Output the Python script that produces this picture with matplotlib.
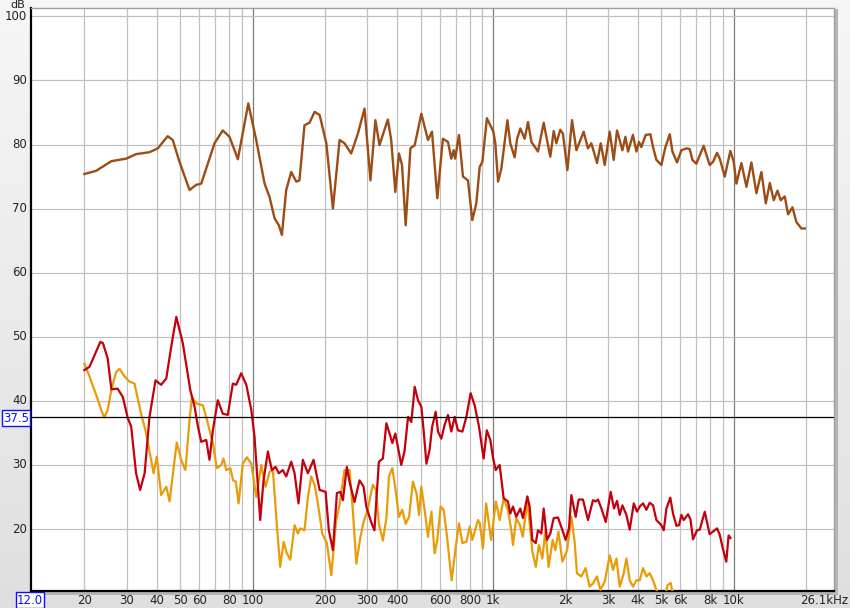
import numpy as np
import matplotlib
matplotlib.use('Agg')
from matplotlib import pyplot as plt
from matplotlib.patches import Rectangle

# brown trace
brown_f = [20, 22.4, 25.9, 29.9, 32.8, 37.3, 40.4, 44.4, 46.6, 49.7, 54.7, 58.3, 61.2, 69.5, 75.2,
           80.2, 86.9, 96, 103.6, 112.2, 117.7, 123.4, 128.6, 132.4, 138, 144.8, 152, 156.6, 164.4,
           172.5, 181.1, 190, 202.6, 215.8, 230, 241, 257, 274, 292, 309, 324, 337, 365, 377, 392,
           406, 418, 433, 453, 472, 503, 536, 557, 586, 618, 649, 670, 685, 695, 721, 749, 786, 819,
           851, 879, 902, 942, 1002, 1021, 1048, 1081, 1146, 1178, 1228, 1258, 1297, 1352, 1396,
           1442, 1536, 1622, 1664, 1728, 1785, 1831, 1901, 1950, 2035, 2127, 2218, 2378, 2478, 2559,
           2703, 2800, 2909, 3051, 3170, 3272, 3444, 3546, 3636, 3810, 3938, 4038, 4130, 4305, 4503,
           4618, 4770, 5000, 5200, 5420, 5560, 5812, 6057, 6353, 6561, 6730, 6990, 7497, 7940, 8203,
           8522, 8747, 9175, 9680, 10000, 10260, 10760, 11290, 11840, 12420, 13030, 13590, 14120,
           14660, 15200, 15680, 16290, 16820, 17540, 18210, 19100, 19720]
brown_db = [75.4, 75.9, 77.4, 77.8, 78.5, 78.8, 79.4, 81.3, 80.7, 77.3, 72.9, 73.7, 73.9, 80.2, 82.2,
            81.2, 77.7, 86.4, 80.7, 73.9, 71.8, 68.5, 67.4, 65.9, 72.9, 75.7, 74.2, 74.4, 83.0,
            83.4, 85.1, 84.6, 80.2, 70.0, 80.7, 80.2, 78.6, 81.7, 85.6, 74.4, 83.8, 79.9, 83.9, 80.7, 72.6,
            78.6, 76.8, 67.4, 79.4, 79.9, 84.8, 80.7, 82.0, 71.6, 80.9, 80.4, 77.8, 79.1, 77.8, 81.5, 75.0, 74.4, 68.2,
            70.8, 76.5, 77.3, 84.1, 82.0, 80.2, 74.2, 76.2, 83.8, 80.2, 78.0, 80.9, 82.5, 80.9, 83.5,
            80.4, 78.9, 83.4, 81.2, 78.1, 82.1, 80.2, 82.3, 81.7, 76.0, 83.8, 79.1, 82.0, 79.4, 80.2,
            77.1, 80.2, 76.8, 82.0, 77.6, 82.2, 79.1, 81.2, 78.9, 81.5, 78.9, 80.4, 79.6, 81.5, 81.6,
            79.6, 77.6, 76.8, 79.6, 81.6, 78.9, 77.2, 79.1, 79.4, 79.3, 77.6, 77.0, 79.8, 76.8, 77.3,
            78.7, 77.8, 75.0, 79.0, 77.3, 73.9, 77.1, 73.4, 77.2, 72.4, 75.7, 70.8, 74.0,
            71.3, 72.8, 71.3, 71.9, 69.1, 70.2, 67.9, 66.9, 66.9]

# red trace
red_f = [20, 21.0, 23.3, 23.9, 25.0, 25.9, 27.5, 28.9, 30.3, 31.3, 32.8, 34.1, 35.6, 37.3, 39.5, 41.7,
         43.8, 45.9, 48.2, 51.3, 55.1, 57.4, 59.3, 61.2, 64.2, 66.2, 68.4, 71.7, 75.2, 78.9, 82.8,
         85.5, 89.7, 94.2, 98.8, 101.9, 107.6, 111.1, 115.8, 120.3, 124.6, 128.6, 133.6, 138,
         144.8, 149.5, 155.2, 161.8, 169.8, 179.3, 190, 201.2, 207.5, 215.8, 224.2, 231.6, 237.4,
         246.6, 252.9, 265.3, 278.4, 289.4, 297, 311, 321, 335, 348, 360, 371, 381, 392, 402, 415,
         428, 443, 457, 472, 487, 503, 514, 528, 544, 558, 577, 590, 609, 628, 649, 670, 692, 714,
         745, 774, 806, 838, 873, 913, 941, 973, 1000, 1025, 1064, 1106, 1152, 1178, 1209, 1247,
         1297, 1330, 1387, 1418, 1455, 1503, 1536, 1586, 1622, 1674, 1728, 1785, 1860, 1950, 2002,
         2066, 2113, 2203, 2267, 2362, 2478, 2600, 2668, 2728, 2818, 2938, 3080, 3179, 3272, 3357,
         3445, 3580, 3695, 3840, 3962, 4064, 4198, 4335, 4475, 4618, 4770, 5000, 5117, 5251, 5448,
         5594, 5777, 5924, 6060, 6194, 6456, 6607, 6774, 7036, 7222, 7577, 7940, 8203, 8522, 8747,
         8975, 9310, 9520, 9700]
red_db = [44.8, 45.3, 49.2, 49.0, 46.6, 41.8, 41.9, 40.6, 37.3, 36.0, 28.7, 26.1, 28.7, 37.5, 43.2, 42.5,
          43.5, 48.4, 53.1, 49.0, 41.7, 39.1, 36.0, 33.6, 33.9, 30.8, 35.4, 40.1, 38.0, 37.8, 42.7,
          42.5, 44.3, 42.5, 38.6, 34.4, 21.4, 27.6, 32.1, 29.2, 29.7, 28.7, 29.2, 28.2,
          30.5, 28.7, 24.0, 30.8, 28.7, 30.8, 26.1, 25.8, 19.8, 16.7, 25.6, 25.8, 24.5,
          29.7, 27.4, 24.2, 27.6, 26.6, 23.5, 21.1, 19.8, 30.5, 31.0, 36.5, 34.9, 33.4, 34.9, 32.8, 30.0,
          32.1, 37.5, 36.7, 42.2, 40.1, 39.1, 35.4, 30.2, 32.3, 36.0, 38.3, 35.2, 34.1, 36.2, 37.8, 35.2, 37.5, 35.4,
          35.2, 37.5, 41.2, 39.3, 36.0, 31.0, 35.4, 33.9, 31.0, 29.2, 30.0, 24.8, 24.3, 22.4, 23.5, 21.9,
          23.2, 21.7, 25.1, 23.5, 18.3, 17.8, 19.8, 19.3, 23.2, 18.3, 19.3, 21.7, 21.8, 19.6, 18.3,
          20.1, 25.3, 21.9, 24.6, 24.6, 21.4, 24.5, 24.3, 24.6, 23.2, 21.1, 25.8, 23.2, 24.4, 22.2,
          23.7, 22.2, 19.9, 24.0, 22.7, 23.5, 24.0, 23.0, 24.1, 23.7, 21.4, 20.6, 19.8, 23.2, 24.9,
          22.4, 20.5, 20.6, 22.2, 21.4, 22.3, 21.5, 18.4, 19.8, 19.9, 22.7, 19.2, 19.6, 20.1, 19.1,
          17.2, 14.9, 19.0, 18.6]

# orange trace
orange_f = [20, 21.0, 22.4, 23.5, 24.2, 25.0, 25.9, 27.1, 28.0, 29.4, 30.8, 32.3, 34.5, 35.9, 37.3,
            38.8, 40.0, 41.7, 43.8, 45.2, 46.9, 48.4, 50.5, 52.6, 54.7, 56.0, 58.3, 62.2, 65.2,
            68.4, 71.0, 74.1, 75.7, 77.8, 80.8, 83.0, 85.2, 87.5, 91.1, 94.7, 98.8, 103.6, 108.7,
            113.3, 117.7, 121.5, 126.3, 130.3, 134.6, 138.9, 143.5, 149.5, 154.3, 157.9, 164.4,
            169.9, 175.3, 181.1, 186.9, 194.8, 203.6, 212.5, 222.6, 230, 241, 253, 261, 270, 280,
            289.4, 301, 316, 326, 335, 348, 360, 369, 381, 393, 406, 419, 433, 447, 464, 480, 492,
            503, 519, 536, 554, 571, 586, 605, 623, 643, 672, 698, 721, 745, 774, 799, 819, 865,
            880, 907, 935, 981, 1026, 1065, 1106, 1152, 1190, 1209, 1247, 1292, 1328, 1386, 1418,
            1455, 1503, 1549, 1601, 1649, 1700, 1768, 1813, 1868, 1940, 2030, 2113, 2181, 2230,
            2325, 2422, 2516, 2598, 2700, 2790, 2909, 3051, 3150, 3255, 3357, 3490, 3580, 3695,
            3815, 3938, 4064, 4198, 4335, 4475, 4618, 4770, 4950, 5117, 5300, 5470, 5640, 5860]
orange_db = [45.8, 43.8, 40.9, 38.6, 37.4, 38.6, 41.7, 44.5, 45.0, 43.8, 43.0, 42.7, 37.8, 35.4, 32.1,
             28.7, 31.3, 25.3, 26.6, 24.3, 29.2, 33.5, 30.8, 29.2, 37.0, 40.6, 39.6, 39.3, 36.5,
             33.4, 29.5, 30.0, 31.0, 29.2, 29.5, 27.6, 27.4, 24.0, 30.2, 31.2, 30.2, 25.0, 30.0,
             26.6, 28.9, 29.2, 20.4, 14.1, 18.0, 16.2, 15.2, 20.6, 19.3, 20.1, 19.8,
             25.0, 28.2, 26.9, 24.0, 19.3, 17.8, 12.8, 21.4, 23.8, 29.2, 29.2, 23.0, 14.6, 18.5,
             21.1, 23.0, 26.9, 26.1, 20.8, 18.2, 21.7, 28.2, 29.5, 26.1, 21.9, 23.0, 20.8, 21.9, 27.4, 25.6, 22.2,
             26.6, 23.0, 18.8, 22.7, 16.2, 18.3, 23.5, 23.0, 18.8, 12.0, 17.0, 20.9, 17.8, 18.0, 20.4, 18.3, 21.4,
             20.9, 17.0, 24.0, 18.3, 24.3, 21.4, 24.8, 23.0, 19.8, 17.5, 21.7, 20.6, 18.8, 24.3, 20.9,
             16.5, 14.1, 17.5, 15.4, 19.8, 14.1, 18.3, 16.7, 19.6, 14.9, 16.7, 21.9, 18.0, 13.1,
             12.6, 13.9, 11.0, 11.5, 12.6, 10.5, 11.8, 15.9, 13.6, 15.4, 11.0, 13.1, 15.4, 12.0,
             11.0, 12.0, 12.0, 13.9, 12.6, 13.1, 12.0, 10.5, 9.0, 8.5, 11.2, 11.6, 9.0, 7.0]

grid_x = [20, 30, 40, 50, 60, 70, 80, 90, 200, 300, 400, 500, 600, 700, 800, 900,
          2000, 3000, 4000, 5000, 6000, 7000, 8000, 9000, 20000]
decade_x = [100, 1000, 10000]
label_x = [20, 30, 40, 50, 60, 80, 100, 200, 300, 400, 600, 800, 1000,
           2000, 3000, 4000, 5000, 6000, 8000, 10000]
label_x_txt = ['20', '30', '40', '50', '60', '80', '100', '200', '300', '400', '600', '800', '1k',
               '2k', '3k', '4k', '5k', '6k', '8k', '10k']
y_ticks = [20, 30, 40, 50, 60, 70, 80, 90, 100]
marker_db = 37.5
x_lo, x_hi = 12.0, 26100
y_lo, y_hi = 10.33, 101.3

W, H = 850, 608
fig = plt.figure(figsize=(W / 100, H / 100), dpi=100)

# gray background with soft vertical gradient
bg = fig.add_axes([0, 0, 1, 1], zorder=0)
grad = np.linspace(0.965, 0.875, 256).reshape(-1, 1)
bg.imshow(np.dstack([grad, grad, grad]), aspect='auto', extent=[0, 1, 0, 1])
bg.set_xlim(0, 1)
bg.set_ylim(0, 1)
bg.set_axis_off()

L, R, T, B = 31, 834, 8, 591
# drop shadow around plot box
bg.add_patch(Rectangle(((L + 1) / W, 1 - (B + 4) / H), (R - L + 3) / W, (B - T + 3) / H,
                       facecolor='#b4b4b4', edgecolor='none', zorder=3))
ax = fig.add_axes([L / W, 1 - B / H, (R - L) / W, (B - T) / H], zorder=2)
ax.set_facecolor('white')
ax.set_xscale('log')
ax.set_xlim(x_lo, x_hi)
ax.set_ylim(y_lo, y_hi)

for gx in grid_x:
    ax.axvline(gx, color='#c0c0c0', lw=0.9, zorder=1)
for gx in decade_x:
    ax.axvline(gx, color='#7a7a7a', lw=0.9, zorder=1)
for gy in y_ticks:
    ax.axhline(gy, color='#c0c0c0', lw=0.9, zorder=1)

ax.plot(brown_f, brown_db, color='#9c4c14', lw=1.7, zorder=3, solid_joinstyle='round')
ax.plot(orange_f, orange_db, color='#e89c08', lw=1.6, zorder=3, solid_joinstyle='round')
ax.plot(red_f, red_db, color='#c4000c', lw=1.6, zorder=4, solid_joinstyle='round')
ax.axhline(marker_db, color='black', lw=0.9, zorder=5)

ax.set_xticks([])
ax.set_yticks([])
ax.minorticks_off()
for s in ['top', 'right']:
    ax.spines[s].set_color('#a0a0a0')
    ax.spines[s].set_linewidth(1.0)
for s in ['left', 'bottom']:
    ax.spines[s].set_color('black')
    ax.spines[s].set_linewidth(1.6)

# tick labels drawn as text so they sit like the original
for v, t in zip(label_x, label_x_txt):
    ax.annotate(t, xy=(v, 0), xycoords=('data', 'axes fraction'), xytext=(0, -7),
                textcoords='offset points', ha='center', va='center', fontsize=8.5, color='#222222',
                annotation_clip=False)
for v in y_ticks:
    ax.annotate(str(v), xy=(0, v), xycoords=('axes fraction', 'data'), xytext=(-3, 0),
                textcoords='offset points', ha='right', va='center', fontsize=8.5, color='#222222',
                annotation_clip=False)

box = dict(boxstyle='square,pad=0.12', fc='white', ec='#1010ff', lw=1.0)
fig.text(30 / W, 1 - 600 / H, '12.0', ha='center', va='center', fontsize=8.5, color='#1010ff', bbox=box)
fig.text(16 / W, 1 - 418 / H, '37.5', ha='center', va='center', fontsize=8.5, color='#1010ff', bbox=box)
fig.text(848 / W, 1 - 600 / H, '26.1kHz', ha='right', va='center', fontsize=8.5, color='#222222')
fig.text(10 / W, 1 - 5 / H, 'dB', ha='left', va='center', fontsize=8, color='#222222')

fig.savefig('out.png', dpi=100)
